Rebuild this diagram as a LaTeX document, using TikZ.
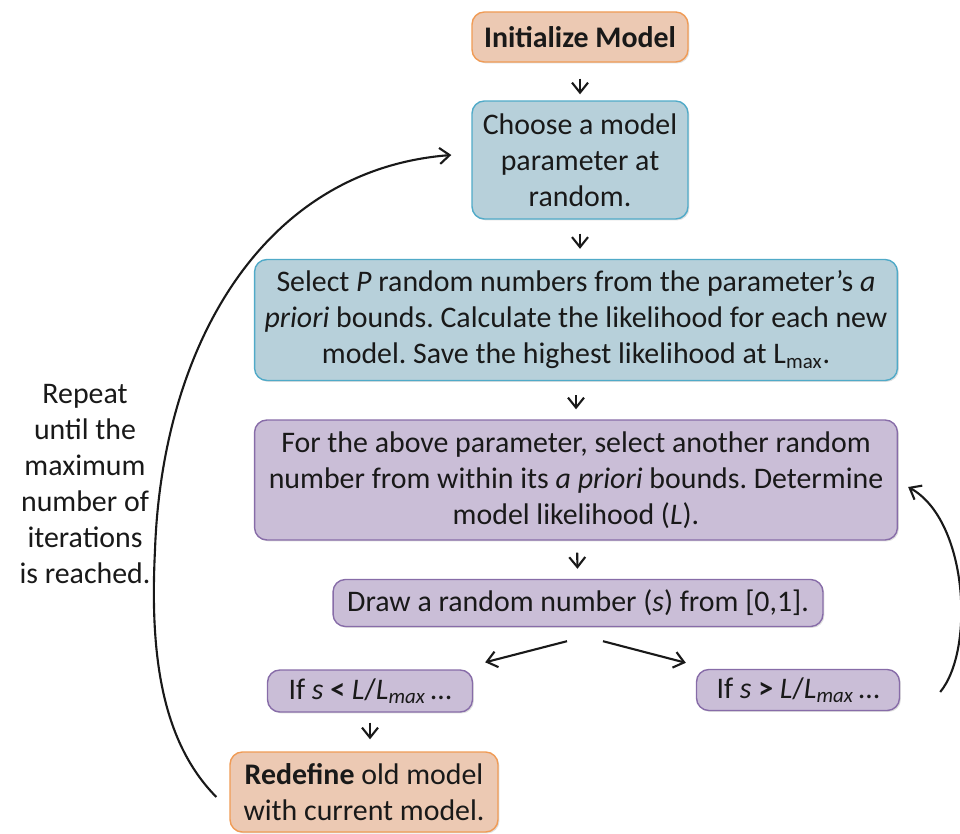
\documentclass[tikz,border=0pt]{standalone}
\usepackage{fontspec}
\setmainfont{Carlito}
\usetikzlibrary{arrows.meta,positioning,shadows,calc}
\definecolor{apricot}{RGB}{240,155,85}
\definecolor{apricotfill}{RGB}{236,201,179}
\definecolor{lagoon}{RGB}{80,170,200}
\definecolor{lagoonfill}{RGB}{183,208,218}
\definecolor{lilac}{RGB}{135,108,168}
\definecolor{lilacfill}{RGB}{202,190,215}
\definecolor{ink}{RGB}{25,25,25}
\newcommand{\flowfont}{\fontsize{17}{20.5}\selectfont\frenchspacing}
\tikzset{
  >={Straight Barb[length=2mm,width=3.2mm]},
  box/.style={draw=#1,fill=#1fill,rounded corners=7pt,thick,align=center,
    font=\flowfont,text=ink,
    drop shadow={opacity=0.25,shadow xshift=0.8pt,shadow yshift=-0.8pt}},
  box/.default=lilac,
  flow/.style={->,line width=1.2pt,draw=#1},
  flow/.default=ink,
  tag/.style={font=\flowfont,text=ink,align=center},
}

\begin{document}
\begin{tikzpicture}[x=0.02cm,y=-0.02cm]
  \useasboundingbox (0,0) rectangle (960,834);
  % main column
  \node[box=apricot,minimum width=4.32cm,minimum height=1cm] (init) at (580,37) {\textbf{Initialize Model}};
  \node[box=lagoon,minimum width=4.32cm,minimum height=2.36cm] (choose) at (580,160)
    {Choose a model\\parameter at\\random.};
  \node[box=lagoon,minimum width=12.86cm,minimum height=2.42cm] (select) at (576,320)
    {Select \textit{P} random numbers from the parameter’s \textit{a}\\
     \textit{priori} bounds. Calculate the likelihood for each new\\
     model. Save the highest likelihood at L\textsubscript{max}.};
  \node[box,minimum width=12.86cm,minimum height=2.4cm] (other) at (576,480)
    {For the above parameter, select another random\\
     number from within its \textit{a priori} bounds. Determine\\
     model likelihood (\textit{L}).};
  \node[box,minimum width=9.8cm,minimum height=0.94cm] (pick) at (578,603)
    {Draw a random number (\textit{s}) from [0,1].};
  \node[box,minimum width=4.1cm,minimum height=0.84cm] (accept) at (370,691)
    {If \textit{s} \textbf{<} \textit{L}/\textit{L}\textsubscript{\textit{max}}\,…};
  \node[box,minimum width=4.06cm,minimum height=0.82cm] (reject) at (798,690)
    {If \textit{s} \textbf{>} \textit{L}/\textit{L}\textsubscript{\textit{max}}\,…};
  \node[box=apricot,minimum width=5.36cm,minimum height=1.6cm] (redefine) at (364,792)
    {\textbf{Redefine} old model\\with current model.};
  \node[tag] (repeat) at (85,484)
    {Repeat\\until the\\maximum\\number of\\iterations\\is reached.};

  % connectors
  \draw[flow,shorten <=16*0.02cm,shorten >=6*0.02cm] (init) -- (choose);
  \draw[flow,shorten <=14*0.02cm,shorten >=10*0.02cm] (choose) -- (choose|-select.north);
  \draw[flow,shorten <=14*0.02cm,shorten >=10*0.02cm] (select) -- (other);
  \draw[flow,shorten <=12*0.02cm,shorten >=10*0.02cm] (other) -- (pick);
  \draw[flow] ($(pick.south)+(-11,14)$) -- ($(accept.north east)+(12,-7)$);
  \draw[flow] ($(pick.south)+(25,14)$) -- ($(reject.north west)+(-10,-6)$);
  \draw[flow,shorten <=10*0.02cm,shorten >=12*0.02cm] (accept) -- (accept|-redefine.north);
  \draw[flow] ($(reject.east)+(40,2)$) .. controls (975,650) and (968,520) .. ($(other.east)+(10,7)$);
  \draw[flow] ($(redefine.west)+(-13,5)$) .. controls (160,740) and (150,650) .. (155,550)
    .. controls (162,350) and (260,170) .. ($(choose.west)+(-20,-5)$);
\end{tikzpicture}
\end{document}
